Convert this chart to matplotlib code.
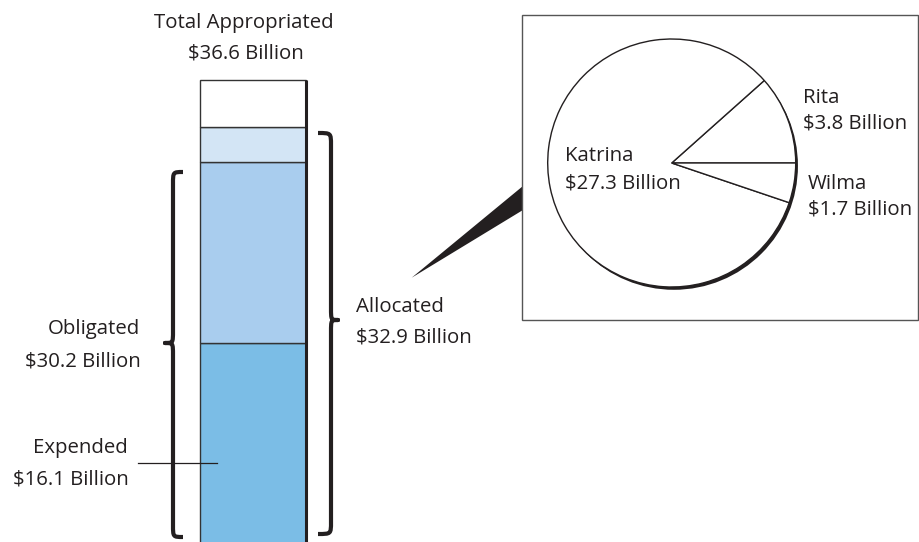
import matplotlib
matplotlib.use("Agg")
import matplotlib.pyplot as plt
from matplotlib.path import Path
from matplotlib.patches import PathPatch, Rectangle, Polygon, Circle

# ---------------- data ----------------
bar_stages = ["Expended", "Obligated", "Allocated", "Total Appropriated"]
bar_cumulative = [16.1, 30.2, 32.9, 36.6]          # $ billions
bar_colors = ["#7bbde6", "#a9cdee", "#d3e5f5", "#ffffff"]

pie_storms = ["Rita", "Katrina", "Wilma"]
pie_values = [3.8, 27.3, 1.7]                      # $ billions

FONT = "Open Sans"
FS = 14.7
W, H = 919, 542

fig = plt.figure(figsize=(W / 100, H / 100), dpi=100)

# ---------------- bar axes (values in billions) ----------------
px_per_b = 12.83
zero_row = 549.6
axb = fig.add_axes([0, 0, 1, 1])
axb.set_xlim(0, W)
axb.set_ylim((zero_row - H) / px_per_b, zero_row / px_per_b)
axb.axis("off")

bottoms = [0.0] + bar_cumulative[:-1]
heights = [t - b for t, b in zip(bar_cumulative, bottoms)]
axb.bar([252.5] * len(heights), heights, bottom=bottoms, width=106,
        color=bar_colors, edgecolor="#333333", linewidth=1.0, zorder=3)
# shadowed right edge
axb.plot([306, 306], [bottoms[0] - 2, bar_cumulative[-1]], color="#231f20",
         lw=2.2, solid_capstyle="butt", zorder=4)

# ---------------- overlay axes in pixel coords ----------------
ax = fig.add_axes([0, 0, 1, 1], facecolor="none")
ax.set_xlim(0, W)
ax.set_ylim(H, 0)
ax.axis("off")


def brace(xs, ytop, ybot, ytip, d, hook, tipw, r, lw=3.0):
    verts = [
        (xs - d * hook, ytop), (xs, ytop), (xs, ytop), (xs, ytop + r),
        (xs, ytip - r),
        (xs, ytip), (xs, ytip), (xs + d * tipw, ytip),
        (xs, ytip), (xs, ytip), (xs, ytip + r),
        (xs, ybot - r),
        (xs, ybot), (xs, ybot), (xs - d * hook, ybot),
    ]
    codes = [Path.MOVETO, Path.CURVE4, Path.CURVE4, Path.CURVE4,
             Path.LINETO,
             Path.CURVE4, Path.CURVE4, Path.CURVE4,
             Path.CURVE4, Path.CURVE4, Path.CURVE4,
             Path.LINETO,
             Path.CURVE4, Path.CURVE4, Path.CURVE4]
    ax.add_patch(PathPatch(Path(verts, codes), fill=False, edgecolor="#231f20",
                           lw=lw, capstyle="butt", joinstyle="round", zorder=5))


brace(173, 172, 537, 343, -1, 10, 8, 12)
brace(331, 133, 534, 320, 1, 13, 7, 12)

# expended leader line
ax.plot([138, 217], [463, 463], color="#231f20", lw=0.9, zorder=6)

tkw = dict(fontsize=FS, family=FONT, color="#231f20")
ax.text(244, 23, "Total Appropriated", ha="center", va="center", **tkw)
ax.text(246, 54, "$36.6 Billion", ha="center", va="center", **tkw)
ax.text(140, 329, "Obligated", ha="right", va="center", **tkw)
ax.text(141, 362, "$30.2 Billion", ha="right", va="center", **tkw)
ax.text(128, 448, "Expended", ha="right", va="center", **tkw)
ax.text(129, 480, "$16.1 Billion", ha="right", va="center", **tkw)
ax.text(356, 307, "Allocated", ha="left", va="center", **tkw)
ax.text(356, 338, "$32.9 Billion", ha="left", va="center", **tkw)

# callout wedge
ax.add_patch(Polygon([(411.7, 277.7), (523, 186), (523, 210)], closed=True,
                     facecolor="#231f20", edgecolor="none", zorder=2))
# box
ax.add_patch(Rectangle((522, 15), 396, 305, facecolor="white",
                       edgecolor="#555555", lw=1.0, zorder=3))

# ---------------- pie axes ----------------
cx, cy, R = 671.7, 163.0, 124.0
axp = fig.add_axes([(cx - R) / W, (H - cy - R) / H, 2 * R / W, 2 * R / H])
axp.axis("off")
sh = 2.8 / R
shadow = Circle((sh * 0.8, -sh), 1.0, facecolor="#231f20",
                edgecolor="none", zorder=0, clip_on=False)
axp.add_patch(shadow)
wedges, _ = axp.pie(pie_values, startangle=0, counterclock=True, radius=1.0,
                    colors=["white"] * 3,
                    wedgeprops=dict(edgecolor="#231f20", linewidth=1.0))
for w in wedges:
    w.set_clip_on(False)
axp.set_xlim(-1, 1)
axp.set_ylim(-1, 1)

ax2 = fig.add_axes([0, 0, 1, 1], facecolor="none")
ax2.set_xlim(0, W)
ax2.set_ylim(H, 0)
ax2.axis("off")
ax2.text(565, 156, "Katrina", ha="left", va="center", **tkw)
ax2.text(565, 183, "$27.3 Billion", ha="left", va="center", **tkw)
ax2.text(803, 98, "Rita", ha="left", va="center", **tkw)
ax2.text(803, 123, "$3.8 Billion", ha="left", va="center", **tkw)
ax2.text(808, 184, "Wilma", ha="left", va="center", **tkw)
ax2.text(808, 210, "$1.7 Billion", ha="left", va="center", **tkw)

fig.savefig("out.png", dpi=100)
